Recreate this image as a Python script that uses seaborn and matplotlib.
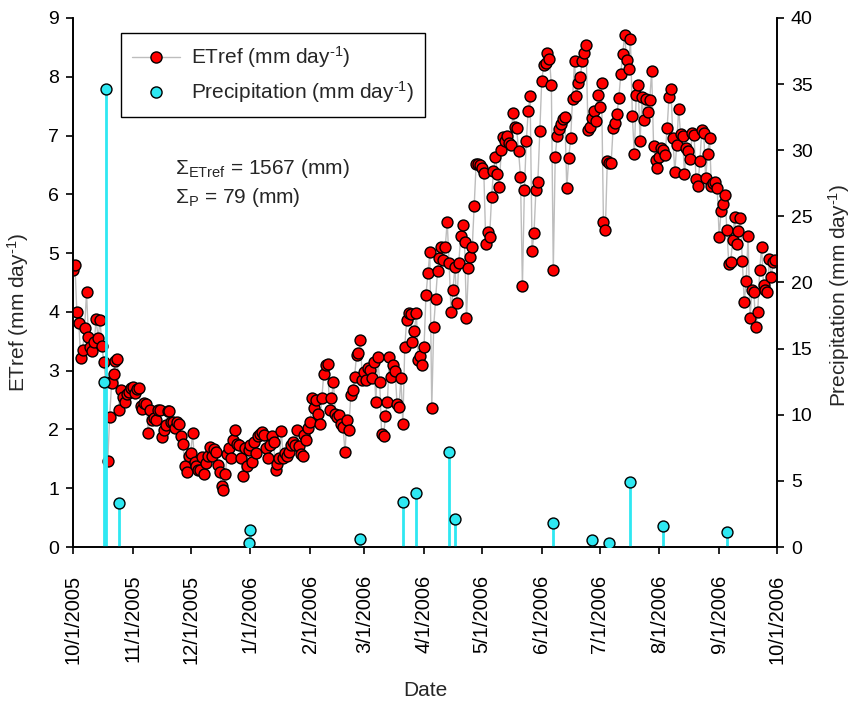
import numpy as np
import pandas as pd
import matplotlib
matplotlib.use("Agg")
import matplotlib.pyplot as plt
import matplotlib.dates as mdates
from matplotlib.ticker import FuncFormatter
from matplotlib.lines import Line2D
import seaborn as sns

# ---------------- data ----------------
etref_oct = [4.71, 4.80, 3.99, 3.81, 3.21, 3.35, 3.72, 4.33, 3.58, 3.40,
             3.33, 3.48, 3.88, 3.55, 3.86, 3.42, 3.14, 2.80, 1.46, 2.21,
             2.79, 2.94, 3.17, 3.20, 2.33, 2.67, 2.55, 2.47, 2.60, 2.64, 2.70]
etref_nov = [2.72, 2.62, 2.68, 2.70, 2.40, 2.35, 2.45, 2.44, 1.94, 2.33,
             2.16, 2.19, 2.16, 2.33, 2.33, 1.87, 1.99, 2.08, 2.32, 2.32,
             2.13, 2.13, 2.02, 2.12, 2.10, 1.88, 1.75, 1.37, 1.28, 1.54]
etref_dec = [1.60, 1.94, 1.45, 1.37, 1.31, 1.31, 1.53, 1.25, 1.43, 1.55,
             1.70, 1.55, 1.66, 1.62, 1.40, 1.28, 1.03, 0.97, 1.25, 1.59,
             1.68, 1.51, 1.82, 1.99, 1.76, 1.73, 1.51, 1.20, 1.68, 1.37, 1.65]
etref_jan = [1.74, 1.45, 1.79, 1.60, 1.88, 1.93, 1.96, 1.90, 1.68, 1.51,
             1.74, 1.88, 1.78, 1.31, 1.42, 1.51, 1.98, 1.51, 1.60, 1.54,
             1.62, 1.74, 1.79, 1.74, 1.99, 1.71, 1.59, 1.54, 1.91, 1.82, 2.02]
etref_feb = [2.13, 2.53, 2.36, 2.50, 2.27, 2.10, 2.53, 2.95, 3.10, 3.12,
             2.33, 2.53, 2.81, 2.27, 2.22, 2.25, 2.10, 2.05, 1.62, 2.16,
             1.99, 2.59, 2.67, 2.90, 3.27, 3.30, 3.52, 2.84]
etref_mar = [2.98, 2.84, 3.04, 3.01, 2.87, 3.15, 2.47, 3.24, 2.80, 1.93,
             1.88, 2.23, 2.47, 3.24, 2.89, 3.10, 3.00, 2.43, 2.39, 2.87,
             2.10, 3.41, 3.86, 3.98, 3.96, 3.48, 3.68, 3.98, 3.18, 3.25, 3.10]
etref_apr = [3.41, 4.29, 4.66, 5.02, 2.36, 3.75, 4.22, 4.70, 4.91, 5.11,
             4.88, 5.11, 5.53, 4.83, 3.99, 4.37, 4.77, 4.15, 4.83, 5.29,
             5.47, 5.19, 3.89, 4.74, 4.93, 5.11, 5.80, 6.52, 6.52, 6.50]
etref_may = [6.44, 6.36, 5.16, 5.36, 5.28, 5.95, 6.39, 6.64, 6.35, 6.12,
             6.75, 6.97, 6.90, 6.99, 6.87, 6.84, 7.38, 7.15, 7.12, 6.74,
             6.30, 4.44, 6.07, 6.90, 7.42, 7.67, 5.04, 5.34, 6.08, 6.21, 7.07]
etref_jun = [7.92, 8.20, 8.23, 8.40, 8.31, 7.86, 4.71, 6.64, 6.99, 7.11,
             7.20, 7.28, 7.31, 6.10, 6.61, 6.95, 7.63, 8.27, 7.67, 7.90,
             8.00, 8.27, 8.40, 8.54, 7.09, 7.15, 7.30, 7.41, 7.24, 7.69]
etref_jul = [7.48, 7.90, 5.53, 5.39, 6.56, 6.54, 6.53, 7.12, 7.22, 7.37,
             7.64, 8.05, 8.39, 8.71, 8.29, 8.14, 8.64, 7.33, 6.68, 7.69,
             7.86, 6.90, 7.65, 7.26, 7.63, 7.40, 7.60, 8.10, 6.82, 6.58, 6.44]
etref_aug = [6.63, 6.78, 6.75, 6.67, 7.12, 7.66, 7.80, 6.95, 6.38, 6.84,
             7.46, 7.02, 6.99, 6.35, 6.78, 6.73, 6.60, 7.05, 7.01, 6.26,
             6.14, 6.57, 7.09, 7.05, 6.27, 6.69, 6.95, 6.14, 6.20, 6.21, 6.10]
etref_sep = [5.28, 5.72, 5.84, 5.99, 5.40, 4.81, 4.85, 5.23, 5.62, 5.15,
             5.38, 5.59, 4.87, 4.16, 4.53, 5.29, 3.89, 4.37, 4.34, 3.74,
             4.00, 4.71, 5.11, 4.46, 4.38, 4.34, 4.90, 4.60, 4.85, 4.88]

precip_dates = ["2005-10-17", "2005-10-18", "2005-10-25", "2005-12-31",
                "2006-01-01", "2006-02-27", "2006-03-21", "2006-03-28",
                "2006-04-14", "2006-04-17", "2006-06-07", "2006-06-27",
                "2006-07-06", "2006-07-17", "2006-08-03", "2006-09-05"]
precip_vals = [12.5, 34.6, 3.3, 0.3, 1.3, 0.6, 3.4, 4.1,
               7.2, 2.1, 1.8, 0.55, 0.3, 4.9, 1.6, 1.1]

left_ticks = list(range(0, 10))
right_ticks = list(range(0, 45, 5))

etref = (etref_oct + etref_nov + etref_dec + etref_jan + etref_feb + etref_mar
         + etref_apr + etref_may + etref_jun + etref_jul + etref_aug + etref_sep)
dates = pd.date_range("2005-10-01", periods=len(etref), freq="D")
df_et = pd.DataFrame({"date": dates, "etref": etref})
df_p = pd.DataFrame({"date": pd.to_datetime(precip_dates), "p": precip_vals})

# ---------------- style ----------------
sns.set_style("ticks")
plt.rcParams["font.family"] = ["Liberation Sans", "DejaVu Sans"]
plt.rcParams["mathtext.fontset"] = "custom"
plt.rcParams["mathtext.rm"] = "Liberation Sans"
plt.rcParams["mathtext.it"] = "Liberation Sans:italic"
plt.rcParams["mathtext.bf"] = "Liberation Sans:bold"

red = "#ff0000"
cyan = "#2ee8f2"
gray = "#bdbdbd"

fig = plt.figure(figsize=(8.55, 7.08), dpi=100)
ax = fig.add_axes([0.0854, 0.2274, 0.8234, 0.7472])
ax2 = ax.twinx()

# ETref series
sns.lineplot(data=df_et, x="date", y="etref", ax=ax, color=gray, lw=1.0,
             zorder=2, legend=False)
sns.scatterplot(data=df_et, x="date", y="etref", ax=ax, color=red,
                edgecolor="black", linewidth=1.0, s=62, zorder=3, legend=False)

# Precipitation stems + markers
ax2.vlines(df_p["date"], 0, df_p["p"], color=cyan, lw=2.0, zorder=2)
sns.scatterplot(data=df_p, x="date", y="p", ax=ax2, color=cyan,
                edgecolor="black", linewidth=1.0, s=62, zorder=3, legend=False)

# axes limits / ticks
xmin = pd.Timestamp("2005-10-01")
xmax = pd.Timestamp("2006-10-01")
ax.set_xlim(xmin, xmax)
ax2.set_xlim(xmin, xmax)
ax.set_ylim(0, 9)
ax2.set_ylim(0, 40)
ax.set_yticks(left_ticks)
ax2.set_yticks(right_ticks)

ax.xaxis.set_major_locator(mdates.MonthLocator(bymonthday=1))
ax.xaxis.set_major_formatter(FuncFormatter(
    lambda v, pos: (lambda d: f"{d.month}/{d.day}/{d.year}")(mdates.num2date(v))))
for lab in ax.get_xticklabels():
    lab.set_rotation(90)

for a in (ax, ax2):
    a.spines["top"].set_visible(False)
    for s in a.spines.values():
        s.set_linewidth(1.2)
        s.set_color("black")
    a.tick_params(direction="out", length=5, width=1.2, colors="black",
                  labelsize=14)
ax.tick_params(axis="x", pad=15, labelsize=14.5)
ax.tick_params(axis="y", pad=5)
ax2.tick_params(axis="y", pad=5)

sup = "$^{\\text{-1}}$"
ax.set_xlabel("Date", fontsize=15, labelpad=12)
ax.set_ylabel("ETref (mm day" + sup + ")", fontsize=15, labelpad=10)
ax2.set_ylabel("Precipitation (mm day" + sup + ")", fontsize=15, rotation=90,
               labelpad=10)
ax.yaxis.set_label_coords(-0.0595, 0.444)
ax2.yaxis.set_label_coords(1.069, 0.476)

# legend
handles = [
    Line2D([0], [0], color=gray, lw=1.0, marker="o", markersize=8,
           markerfacecolor=red, markeredgecolor="black", markeredgewidth=1.0),
    Line2D([0], [0], color="none", lw=0, marker="o", markersize=8,
           markerfacecolor=cyan, markeredgecolor="black", markeredgewidth=1.0),
]
labels = ["ETref (mm day" + sup + ")", "Precipitation (mm day" + sup + ")"]
leg = ax2.legend(handles, labels, loc="upper left",
                 bbox_to_anchor=(0.068, 0.972), fontsize=15, frameon=True,
                 fancybox=False, edgecolor="black", framealpha=1,
                 handlelength=2.3, handletextpad=0.5, borderpad=0.55,
                 labelspacing=0.45, borderaxespad=0)
leg.get_frame().set_linewidth(1.0)

ax2.text(0.145, 0.716, "Σ$_{\\mathrm{ETref}}$ = 1567 (mm)", transform=ax.transAxes,
         fontsize=15, va="center", ha="left")
ax2.text(0.145, 0.660, "Σ$_{\\mathrm{P}}$ = 79 (mm)", transform=ax.transAxes,
         fontsize=15, va="center", ha="left")

fig.savefig("out.png", dpi=100)
